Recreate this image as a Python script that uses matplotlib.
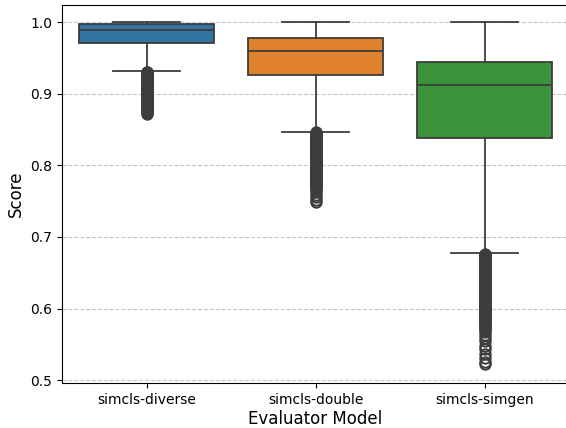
import matplotlib
matplotlib.use("Agg")
import matplotlib.pyplot as plt

models = ["simcls-diverse", "simcls-double", "simcls-simgen"]
colors = ["#3274a1", "#e1812c", "#3a923a"]

# box statistics per evaluator: lower whisker, q1, median, q3, upper whisker
whisker_low = [0.9317, 0.847, 0.677]
q1 = [0.9707, 0.9257, 0.838]
median = [0.9884, 0.960, 0.9117]
q3 = [0.9968, 0.978, 0.945]
whisker_high = [1.0, 1.0, 1.0]

fliers_diverse = [
    0.931, 0.930, 0.929, 0.928, 0.927, 0.926, 0.925, 0.924, 0.923, 0.922,
    0.921, 0.920, 0.919, 0.918, 0.917, 0.916, 0.915, 0.914, 0.913, 0.912,
    0.911, 0.910, 0.909, 0.908, 0.907, 0.906, 0.905, 0.904, 0.903, 0.902,
    0.901, 0.900, 0.899, 0.898, 0.897, 0.896, 0.895, 0.894, 0.893, 0.892,
    0.891, 0.890, 0.889, 0.888, 0.887, 0.886, 0.885, 0.884, 0.883, 0.882,
    0.881, 0.880, 0.879, 0.878, 0.877, 0.876, 0.875, 0.874, 0.873, 0.872,
]
fliers_double = [
    0.846, 0.845, 0.844, 0.843, 0.842, 0.841, 0.840, 0.839, 0.838, 0.837,
    0.836, 0.835, 0.834, 0.833, 0.832, 0.831, 0.830, 0.829, 0.828, 0.827,
    0.826, 0.825, 0.824, 0.823, 0.822, 0.821, 0.820, 0.819, 0.818, 0.817,
    0.816, 0.815, 0.814, 0.813, 0.812, 0.811, 0.810, 0.809, 0.808, 0.807,
    0.806, 0.805, 0.804, 0.803, 0.802, 0.801, 0.800, 0.799, 0.798, 0.797,
    0.796, 0.795, 0.794, 0.793, 0.792, 0.791, 0.790, 0.789, 0.788, 0.787,
    0.786, 0.785, 0.784, 0.783, 0.782, 0.781, 0.780, 0.779, 0.778, 0.777,
    0.776, 0.775, 0.774, 0.773, 0.772, 0.771, 0.770, 0.769, 0.768, 0.766,
    0.763, 0.759, 0.756, 0.752, 0.749,
]
fliers_simgen = [
    0.676, 0.675, 0.674, 0.673, 0.672, 0.671, 0.670, 0.669, 0.668, 0.667,
    0.666, 0.665, 0.664, 0.663, 0.662, 0.661, 0.660, 0.659, 0.658, 0.657,
    0.656, 0.655, 0.654, 0.653, 0.652, 0.651, 0.650, 0.649, 0.648, 0.647,
    0.646, 0.645, 0.644, 0.643, 0.642, 0.641, 0.640, 0.639, 0.638, 0.637,
    0.636, 0.635, 0.634, 0.633, 0.632, 0.631, 0.630, 0.629, 0.628, 0.627,
    0.626, 0.625, 0.624, 0.623, 0.622, 0.621, 0.620, 0.619, 0.618, 0.617,
    0.616, 0.615, 0.614, 0.613, 0.612, 0.611, 0.610, 0.609, 0.608, 0.607,
    0.606, 0.605, 0.604, 0.603, 0.602, 0.601, 0.600, 0.599, 0.598, 0.597,
    0.596, 0.595, 0.594, 0.593, 0.592, 0.591, 0.590, 0.589, 0.588, 0.587,
    0.586, 0.585, 0.584, 0.583, 0.582, 0.581, 0.580, 0.578, 0.576, 0.574,
    0.572, 0.570, 0.567, 0.563, 0.559, 0.554, 0.548, 0.543, 0.537, 0.531,
    0.526, 0.522,
]
fliers = [fliers_diverse, fliers_double, fliers_simgen]

line_color = "#3d3d3d"

fig = plt.figure(figsize=(5.66, 4.28), dpi=100)
ax = fig.add_axes([62 / 566, 45 / 428, 507 / 566, 378 / 428])

stats = []
for i, name in enumerate(models):
    stats.append(dict(label=name, whislo=whisker_low[i], q1=q1[i], med=median[i],
                      q3=q3[i], whishi=whisker_high[i], fliers=fliers[i]))

bp = ax.bxp(stats, positions=range(len(models)), widths=0.8, patch_artist=True,
            boxprops=dict(edgecolor=line_color, linewidth=1.3),
            medianprops=dict(color=line_color, linewidth=1.3),
            whiskerprops=dict(color=line_color, linewidth=1.3),
            capprops=dict(color=line_color, linewidth=1.3),
            flierprops=dict(marker="o", markersize=7.5, markerfacecolor="none",
                            markeredgecolor=line_color, markeredgewidth=1.4),
            capwidths=0.4, zorder=2)
for patch, c in zip(bp["boxes"], colors):
    patch.set_facecolor(c)

ax.set_xlim(-0.5, 2.5)
ax.set_ylim(0.496, 1.024)
ax.set_yticks([0.5, 0.6, 0.7, 0.8, 0.9, 1.0])
ax.set_xticks(range(len(models)))
ax.set_xticklabels(models)
ax.tick_params(labelsize=10)
ax.yaxis.grid(True, linestyle="--", color="#b0b0b0", alpha=0.7, zorder=0)
ax.set_axisbelow(True)
ax.set_xlabel("Evaluator Model", fontsize=12, labelpad=2)
ax.set_ylabel("Score", fontsize=12)

fig.savefig("out.png", dpi=100)
